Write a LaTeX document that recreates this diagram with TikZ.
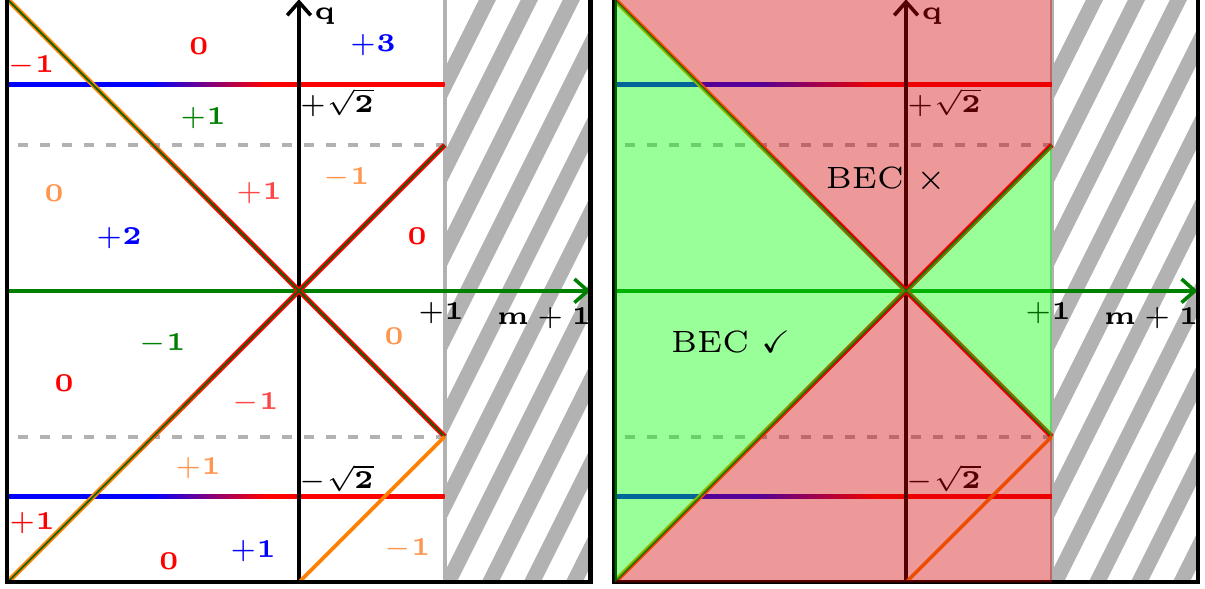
\documentclass[tikz,border=0pt]{standalone}
\usepackage{amsmath,amssymb}
\usepackage{xcolor}
\usepackage{tikz}
\usetikzlibrary{arrows.meta}

\definecolor{lightorange}{RGB}{255,150,80}
\definecolor{lightred}{RGB}{255,70,70}
\definecolor{axisgreen}{RGB}{0,128,0}
\definecolor{badfill}{RGB}{210,0,0}
\definecolor{goodfill}{RGB}{0,255,0}
\pgfdeclarehorizontalshading{bluered}{100bp}{color(0bp)=(blue); color(41.5bp)=(blue); color(54.5bp)=(red); color(100bp)=(red)}

% one (m+1, q) plane, shared by both panels
\newcommand{\phasepanel}{%
  % excluded strip m+1 > 1
  \begin{scope}
    \clip (1,-2) rectangle (2,2);
    \foreach \k in {0,...,12}
      \draw[stripe] ({0.295+0.288*\k-1.2},-2.4) -- ++(2.4,4.8);
  \end{scope}
  \draw[border] (1,-2) -- (1,2);
  \draw[guide] (-1.93,1) -- (1,1);
  \draw[guide] (-1.93,-1) -- (1,-1);
  % q = +-sqrt2
  \shade[shading=bluered] (-2,{sqrt(2)-0.014}) rectangle (1,{sqrt(2)+0.014});
  \shade[shading=bluered] (-2,{-sqrt(2)-0.014}) rectangle (1,{-sqrt(2)+0.014});
  % axes
  \draw[qaxis] (0,-2) -- (0,2);
  \draw[maxis] (-2,0) -- (2,0);
  % diagonals q = -+(m+1)
  \draw[diag, draw=orange] (-2,2) -- (-1.2,1.2);
  \draw[diag, draw=orange] (-2,-2) -- (-1.2,-1.2);
  \foreach \i in {0,...,6} {
    \pgfmathsetmacro\pct{(\i+0.5)*100/7}
    \draw[diag, draw=red!\pct!orange] ({-1.2+0.1*\i},{1.2-0.1*\i}) -- ++(0.1,-0.1);
    \draw[diag, draw=red!\pct!orange] ({-1.2+0.1*\i},{-1.2+0.1*\i}) -- ++(0.1,0.1);
  }
  \draw[diag, draw=red] (-0.5,0.5) -- (1,-1);
  \draw[diag, draw=red] (-0.5,-0.5) -- (1,1);
  \draw[core] (-2,2) -- (1,-1);
  \draw[core] (-2,-2) -- (1,1);
  \draw[line width=0.7pt, orange] (0,-2) -- (1,-1);
  % frame
  \draw[frame] (-2,2) -- (-2,-2) -- (2,-2) -- (2,2);
  % axis labels
  \node[num] (qlab) at (0.178,1.88) {$\mathbf{q}$};
  \node[num] (sqp) at (0.26,1.29) {$+\sqrt{\mathbf{2}}$};
  \node[num] (sqm) at (0.254,-1.29) {$-\sqrt{\mathbf{2}}$};
  \node[num] (one) at (0.974,-0.151) {$+\mathbf{1}$};
  \node[num] (mlab) at (1.681,-0.185) {$\mathbf{m}+\mathbf{1}$};
}

\begin{document}
\begin{tikzpicture}[
    stripe/.style={line width=3pt, draw=black!30},
    border/.style={draw=black!30, line width=0.8pt},
    guide/.style={draw=black!30, line width=0.8pt, dash pattern=on 2pt off 2.3pt},
    diag/.style={line width=1pt},
    core/.style={draw=axisgreen!80!black, line width=0.32pt},
    qaxis/.style={line width=0.7pt, -{Straight Barb[length=2.6pt,width=4.6pt]}},
    maxis/.style={qaxis, draw=axisgreen},
    frame/.style={line width=0.8pt},
    num/.style={font=\fontsize{5.5}{6.6}\selectfont},
    tag/.style={font=\fontsize{6}{7.2}\selectfont},
    badzone/.style={fill=badfill, fill opacity=0.4},
    goodzone/.style={fill=goodfill, fill opacity=0.4},
  ]
  \useasboundingbox (-2.051,-2.045) rectangle (6.216,1.995);

  % Left panel -- Chern numbers
  \begin{scope}[name prefix=L-]
    \phasepanel
    \node[num, text=red] (a1) at (-1.84,1.544) {$-\mathbf{1}$};
    \node[num, text=red] (a2) at (-0.686,1.681) {$\mathbf{0}$};
    \node[num, text=blue] (a3) at (0.507,1.688) {$+\mathbf{3}$};
    \node[num, text=axisgreen] (a4) at (-0.659,1.187) {$+\mathbf{1}$};
    \node[num, text=lightorange] (a5) at (-1.68,0.666) {$\mathbf{0}$};
    \node[num, text=lightred] (a6) at (-0.274,0.669) {$+\mathbf{1}$};
    \node[num, text=blue] (a7) at (-1.235,0.364) {$+\mathbf{2}$};
    \node[num, text=lightorange] (a8) at (0.322,0.775) {$-\mathbf{1}$};
    \node[num, text=red] (a9) at (0.81,0.377) {$\mathbf{0}$};
    \node[num, text=axisgreen] (b1) at (-0.94,-0.364) {$-\mathbf{1}$};
    \node[num, text=lightorange] (b2) at (0.652,-0.309) {$\mathbf{0}$};
    \node[num, text=red] (b3) at (-1.612,-0.631) {$\mathbf{0}$};
    \node[num, text=lightred] (b4) at (-0.302,-0.768) {$-\mathbf{1}$};
    \node[num, text=lightorange] (b5) at (-0.693,-1.214) {$+\mathbf{1}$};
    \node[num, text=red] (b6) at (-1.832,-1.592) {$+\mathbf{1}$};
    \node[num, text=red] (b7) at (-0.892,-1.852) {$\mathbf{0}$};
    \node[num, text=blue] (b8) at (-0.316,-1.784) {$+\mathbf{1}$};
    \node[num, text=lightorange] (b9) at (0.741,-1.77) {$-\mathbf{1}$};
  \end{scope}

  % Right panel -- BEC regions
  \begin{scope}[xshift=4.165cm, name prefix=R-]
    \phasepanel
    \fill[badzone] (-2,2) -- (1,2) -- (1,1) -- (0,0) -- cycle;
    \fill[badzone] (-2,-2) -- (0,0) -- (1,-1) -- (1,-2) -- cycle;
    \fill[goodzone] (-2,2) -- (0,0) -- (-2,-2) -- cycle;
    \fill[goodzone] (0,0) -- (1,1) -- (1,-1) -- cycle;
    \node[tag] (nobec) at (-0.137,0.76) {BEC $\times$};
    \node[tag] (bec) at (-1.2,-0.35) {BEC $\checkmark$};
  \end{scope}
\end{tikzpicture}
\end{document}
